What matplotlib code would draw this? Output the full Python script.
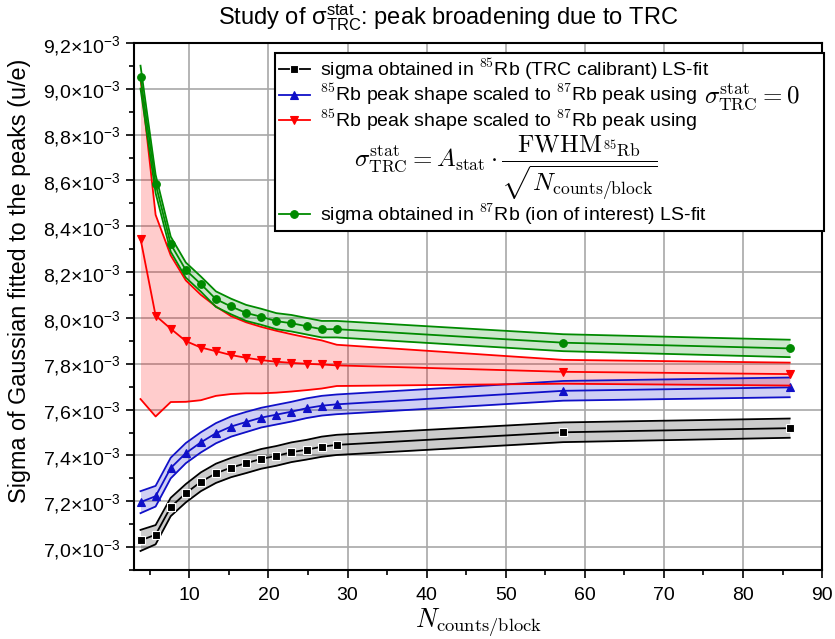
import matplotlib.pyplot as plt
import numpy as np
from matplotlib.lines import Line2D
from matplotlib.ticker import FuncFormatter, MultipleLocator

# N_counts/block values used for every series
n_counts = [3.82, 5.73, 7.64, 9.55, 11.45, 13.36, 15.27, 17.18, 19.09, 21.00,
            22.91, 24.82, 26.73, 28.64, 57.27, 85.91]

# sigma of the fitted Gaussian, in units of 1e-3 u/e
sigma_rb85 = [7.029, 7.054, 7.175, 7.235, 7.285, 7.322, 7.347, 7.366, 7.385,
              7.398, 7.414, 7.425, 7.438, 7.446, 7.501, 7.519]
sigma_rb85_err = [0.046, 0.042, 0.040, 0.040, 0.041, 0.042, 0.042, 0.043,
                  0.043, 0.043, 0.043, 0.043, 0.044, 0.044, 0.043, 0.042]

scaled_zero = [7.196, 7.222, 7.345, 7.410, 7.457, 7.497, 7.526, 7.546, 7.565,
               7.578, 7.591, 7.606, 7.617, 7.623, 7.682, 7.697]
scaled_zero_err = [0.048, 0.045, 0.045, 0.044, 0.044, 0.044, 0.044, 0.044,
                   0.043, 0.043, 0.043, 0.043, 0.043, 0.043, 0.043, 0.043]

scaled_stat = [8.346, 8.010, 7.953, 7.899, 7.871, 7.855, 7.838, 7.826, 7.816,
               7.809, 7.804, 7.800, 7.797, 7.793, 7.765, 7.755]
scaled_stat_err = [0.700, 0.440, 0.320, 0.265, 0.230, 0.195, 0.170, 0.155,
                   0.145, 0.135, 0.125, 0.115, 0.105, 0.090, 0.052, 0.050]

sigma_rb87 = [9.051, 8.585, 8.322, 8.209, 8.148, 8.082, 8.050, 8.022, 8.005,
              7.986, 7.977, 7.964, 7.951, 7.951, 7.892, 7.867]
sigma_rb87_err = [0.050, 0.040, 0.033, 0.033, 0.033, 0.034, 0.034, 0.035,
                  0.035, 0.035, 0.036, 0.036, 0.036, 0.036, 0.037, 0.038]

plt.rcParams["font.family"] = "Liberation Sans"
plt.rcParams["mathtext.fontset"] = "custom"
plt.rcParams["mathtext.rm"] = "Liberation Sans"
plt.rcParams["mathtext.it"] = "Liberation Sans:italic"
plt.rcParams["mathtext.bf"] = "Liberation Sans:bold"
plt.rcParams["mathtext.sf"] = "Liberation Sans"

W, H = 835, 639
fig = plt.figure(figsize=(W / 100, H / 100), dpi=100)
ax = fig.add_axes([0.1605, 0.108, 0.824, 0.8247])

x = np.array(n_counts)


def draw_band(values, errors, color, marker, ms, mec=None):
    y = np.array(values) * 1e-3
    e = np.array(errors) * 1e-3
    ax.fill_between(x, y - e, y + e, color=color, alpha=0.2, lw=0)
    ax.plot(x, y - e, color=color, lw=1.3)
    ax.plot(x, y + e, color=color, lw=1.3)
    (line,) = ax.plot(x, y, color=color, lw=1.3, marker=marker, ms=ms,
                      mec=mec or color, mew=0.8)
    return line


c_black = "#000000"
c_blue = "#1010c8"
c_red = "#ff0000"
c_green = "#008a00"

h_black = draw_band(sigma_rb85, sigma_rb85_err, c_black, "s", 5.5, mec="white")
h_blue = draw_band(scaled_zero, scaled_zero_err, c_blue, "^", 6)
h_red = draw_band(scaled_stat, scaled_stat_err, c_red, "v", 6)
h_green = draw_band(sigma_rb87, sigma_rb87_err, c_green, "o", 5.5)

ax.set_xlim(3, 90)
ax.set_ylim(6.9e-3, 9.2e-3)
ax.set_xticks(np.arange(10, 91, 10))
ax.xaxis.set_minor_locator(MultipleLocator(5))
ax.yaxis.set_major_locator(MultipleLocator(0.2e-3))
ax.yaxis.set_minor_locator(MultipleLocator(0.1e-3))
ax.yaxis.set_major_formatter(FuncFormatter(
    lambda v, pos: f"{v * 1e3:.1f}".replace(".", ",") + "×10$^{-3}$"))

ax.tick_params(which="both", direction="out", width=1.2, labelsize=14,
               top=False, right=False)
ax.tick_params(which="major", length=6)
ax.tick_params(which="minor", length=3.5)
ax.tick_params(axis="x", pad=6)
for sp in ax.spines.values():
    sp.set_linewidth(1.5)

ax.set_axisbelow(True)
ax.grid(which="major", color="#a8a8a8", lw=1.2)

ax.set_xlabel(r"$N_{\rm counts/block}$", fontsize=19, math_fontfamily="cm",
              labelpad=2)
fig.text(20 / W, 1 - 281 / H, "Sigma of Gaussian fitted to the peaks (u/e)",
         rotation=90, ha="center", va="center", fontsize=16.8)
fig.text(448 / W, 1 - 18 / H,
         r"Study of σ$^{\mathregular{stat}}_{\mathregular{TRC}}$: peak broadening due to TRC",
         ha="center", va="center", fontsize=17)

# legend; the sigma = 0 part of the blue entry is drawn on top afterwards
leg_size = 14
blue_text = r"$^{\mathsf{85}}$Rb peak shape scaled to $^{\mathsf{87}}$Rb peak using"
blank = Line2D([], [], linestyle="none", marker="none")
labels = [
    r"sigma obtained in $^{\mathsf{85}}$Rb (TRC calibrant) LS-fit",
    blue_text,
    r"$^{\mathsf{85}}$Rb peak shape scaled to $^{\mathsf{87}}$Rb peak using",
    r"$\quad\;\;\sigma^{\rm stat}_{\rm TRC} = A_{\rm stat}\cdot"
    r"\dfrac{\mathrm{FWHM}_{^{85}\mathrm{Rb}}}{\sqrt{N_{\rm counts/block}}}$",
    r"sigma obtained in $^{\mathsf{87}}$Rb (ion of interest) LS-fit",
]
leg_left = (275 - 134) / 688
leg_top = (570 - 53) / 527
leg = ax.legend([h_black, h_blue, h_red, blank, h_green], labels,
                loc="upper left",
                bbox_to_anchor=(leg_left, 0, 1.003 - leg_left, leg_top),
                mode="expand", borderaxespad=0, fontsize=leg_size,
                fancybox=False, framealpha=1, edgecolor="black",
                borderpad=0.2, labelspacing=0.0, handlelength=1.6,
                handletextpad=0.5, numpoints=1)
leg.get_frame().set_linewidth(1.5)
for t in leg.get_texts():
    t.set_math_fontfamily("cm")
leg.get_texts()[3].set_fontsize(18)

fig.canvas.draw()
renderer = fig.canvas.get_renderer()
bb = leg.get_texts()[1].get_window_extent(renderer)
fig.text((bb.x1 + 7) / W, (bb.y0 + 0.2 * leg_size * 100 / 72) / H,
         r"$\sigma^{\rm stat}_{\rm TRC} = 0$", fontsize=18,
         math_fontfamily="cm", ha="left", va="baseline")

fig.savefig("out.png", dpi=100)
